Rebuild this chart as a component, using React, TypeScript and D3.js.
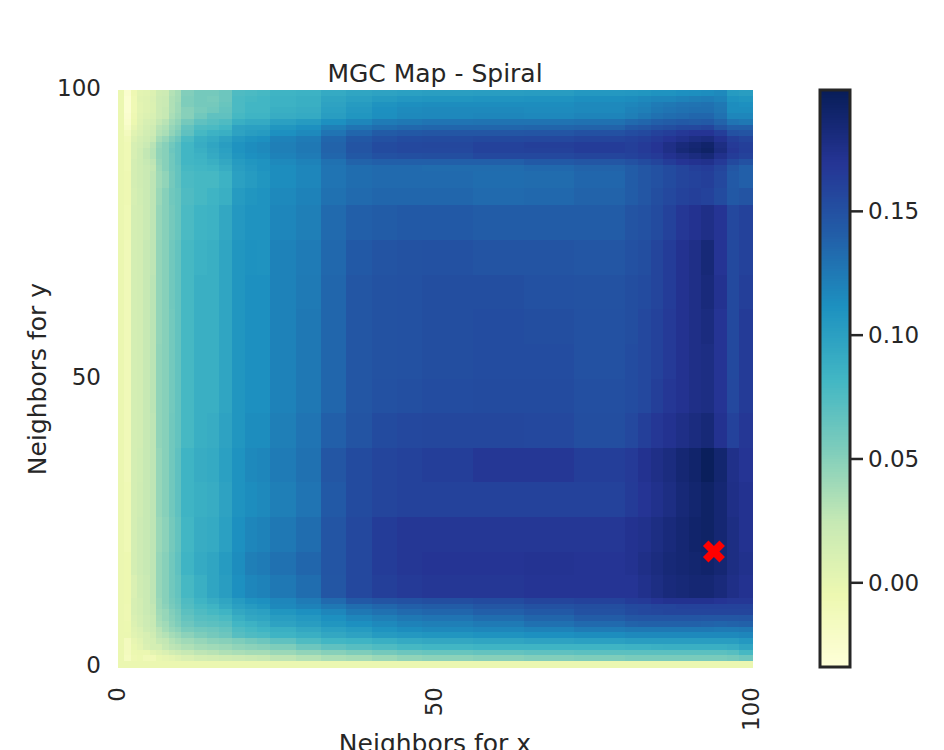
import React from "react";
import * as d3 from "d3";

// Non-uniform block edges, in map cells (columns from the left, rows from the top)
const columnStarts = [0,1,2,3,4,5,6,7,8,9,10,12,14,16,18,20,22,24,28,32,36,40,44,48,56,64,72,80,82,84,86,88,90,92,94,96,98,100];
const rowStarts = [0,1,2,3,4,5,6,7,8,9,10,11,12,13,14,17,20,26,32,38,44,50,56,62,68,74,80,84,88,89,90,91,92,93,94,95,96,97,98,99,100];

// MGC statistic in thousandths, one line per block row (top to bottom)
const mgcMilli = [
[-3,-26,-6,3,4,8,18,20,32,37,52,58,58,62,76,78,80,84,86,92,96,98,100,101,102,103,106,107,108,110,110,112,113,114,116,104,102],
[-3,-28,-8,4,6,10,20,22,34,38,54,58,56,62,78,80,82,86,88,96,100,104,107,108,109,110,113,114,116,118,118,120,122,123,120,110,108],
[-3,-28,-8,3,6,9,20,22,34,40,54,58,58,64,78,82,82,86,88,98,104,110,113,114,114,114,116,118,120,124,126,128,129,130,126,114,112],
[-3,-28,-8,3,6,9,20,24,34,40,50,56,60,66,78,82,82,88,90,100,106,112,115,116,116,115,116,120,122,126,128,130,131,131,127,114,114],
[-3,-26,-6,4,8,11,20,24,36,42,50,60,68,68,80,84,84,90,92,102,108,113,116,117,118,117,119,122,126,130,132,134,136,136,130,118,118],
[-3,-24,-4,6,12,14,25,30,40,46,58,68,72,76,88,92,92,100,104,112,118,124,126,128,129,129,130,134,136,140,142,144,143,144,138,128,126],
[-3,-20,0,8,14,18,30,34,44,50,66,76,78,82,98,100,100,108,112,122,128,132,135,136,136,137,138,144,146,150,152,155,156,158,148,140,140],
[-3,-14,4,10,16,20,32,36,46,54,68,80,86,88,98,102,104,112,116,128,136,143,145,146,146,147,150,153,155,160,163,167,170,170,163,150,148],
[-3,-10,8,14,18,24,38,44,54,62,78,88,92,98,106,110,112,120,124,136,145,150,153,154,155,156,158,160,162,166,170,174,178,180,172,162,158],
[-3,-8,12,16,22,30,44,50,60,68,82,90,96,102,110,114,116,122,126,138,148,154,156,157,160,162,164,162,166,170,176,182,186,190,178,166,162],
[-3,-8,12,18,26,32,46,50,62,68,82,88,94,100,110,114,116,122,126,138,148,154,156,156,160,161,164,162,166,170,176,184,188,192,180,168,163],
[-3,-8,12,18,26,32,46,50,60,68,82,86,92,98,108,112,114,120,124,136,145,150,151,152,156,156,158,160,163,166,172,176,180,184,174,164,160],
[-3,-8,14,19,24,28,44,50,60,68,82,84,88,94,104,108,110,116,120,130,138,140,140,140,140,144,146,150,154,158,164,170,172,174,166,155,150],
[-3,-8,14,18,22,26,42,50,60,66,80,82,84,90,102,106,110,114,118,128,132,134,134,133,133,135,138,142,146,150,154,158,162,164,158,146,140],
[-3,-6,14,18,22,28,40,46,58,66,78,80,80,86,100,104,108,114,118,128,132,134,134,134,132,133,136,142,146,150,154,158,160,162,156,144,140],
[-3,-6,13,17,22,28,42,50,60,64,76,80,84,88,104,108,110,116,120,130,134,136,136,136,134,135,138,142,146,152,156,160,162,160,154,145,148],
[-3,-8,14,16,22,28,44,50,58,64,78,84,86,94,106,110,110,118,122,134,140,142,144,144,142,142,142,148,150,154,160,168,172,176,170,156,160],
[-3,-10,14,16,24,28,45,50,60,66,80,86,88,96,108,111,110,120,124,135,144,148,149,150,148,148,146,150,152,158,164,172,176,184,170,155,160],
[-3,-10,14,16,24,29,45,50,60,66,80,88,88,96,108,112,112,120,125,136,146,149,150,152,152,150,149,152,154,158,164,172,176,182,172,155,162],
[-3,-10,14,16,24,29,45,50,59,66,80,88,88,96,108,112,112,120,126,136,146,149,150,152,153,152,150,152,156,160,166,172,176,180,170,155,165],
[-3,-10,14,16,24,29,46,50,59,66,80,88,88,96,108,112,112,120,126,136,146,149,150,152,153,153,150,153,156,160,166,172,176,178,170,155,165],
[-3,-10,14,16,24,29,46,50,59,66,80,88,88,96,108,112,112,120,126,136,146,150,151,153,154,154,151,153,156,162,168,172,176,178,170,156,165],
[-3,-10,14,16,24,28,46,50,60,66,80,88,90,98,108,114,114,122,128,140,148,154,156,157,157,156,152,156,162,168,172,176,180,184,172,160,168],
[-3,-10,14,17,24,28,44,50,60,68,84,90,92,100,110,116,118,124,130,146,154,158,160,163,168,168,163,166,172,176,180,186,190,197,188,175,170],
[-3,-8,14,18,24,28,44,50,60,68,84,88,90,98,110,114,116,122,128,144,154,158,160,160,160,160,160,165,170,174,178,184,188,192,186,176,172],
[-3,-8,14,20,24,28,42,48,58,66,82,90,92,100,112,118,120,126,132,147,156,164,168,168,168,168,168,172,174,178,182,186,190,192,186,178,172],
[-3,-5,14,20,24,28,44,50,60,68,84,92,96,104,114,122,124,130,136,147,156,164,168,170,170,171,170,172,176,180,184,186,188,190,186,178,174],
[-3,-5,10,18,22,28,44,50,60,66,80,88,96,102,112,118,120,126,132,146,156,162,166,168,168,170,170,170,174,178,182,184,186,186,182,176,172],
[-3,-5,12,16,22,28,42,50,58,64,76,84,90,96,104,110,112,118,124,134,144,148,150,152,154,158,160,164,166,170,172,172,172,172,170,168,168],
[-3,-6,12,16,22,26,42,48,56,62,74,80,84,92,100,104,108,116,120,126,132,136,140,142,146,150,152,155,156,158,158,160,160,160,160,160,160],
[-3,-6,12,16,22,26,40,44,52,58,70,76,80,84,94,98,100,108,112,118,126,130,134,136,140,144,150,154,156,157,158,158,158,158,158,158,158],
[-3,-6,10,14,20,24,38,44,50,56,66,72,74,78,88,94,96,102,106,112,118,122,126,128,132,137,142,146,147,147,147,147,147,146,146,146,147],
[-3,-4,8,14,20,24,36,40,48,54,62,68,70,72,82,86,90,98,102,108,112,116,120,122,125,130,134,138,139,139,139,139,139,138,137,138,139],
[-3,-4,6,10,18,22,30,38,44,48,56,60,62,66,76,80,84,88,94,100,104,110,114,116,118,120,124,126,126,126,126,126,126,126,125,125,126],
[-3,-3,4,8,12,18,28,32,38,42,48,54,58,62,72,76,78,84,88,94,98,104,106,108,110,112,114,116,116,116,116,116,116,116,116,116,118],
[-3,-14,0,4,12,14,24,26,32,36,40,44,48,50,54,58,62,68,76,82,84,88,92,94,96,98,100,102,102,102,102,102,102,102,102,102,106],
[-3,-14,-2,2,10,14,14,24,28,30,34,38,40,42,46,48,50,54,62,68,72,76,80,82,84,84,84,86,86,87,88,88,88,88,88,90,96],
[-3,-14,-4,-3,-3,2,6,10,16,20,24,28,30,34,36,38,38,42,46,50,54,58,62,64,66,68,70,70,70,70,70,70,70,70,70,72,80],
[-3,-16,-6,-4,-10,-10,-2,0,2,6,10,14,16,18,20,22,24,28,32,36,38,42,46,48,50,52,54,56,56,56,56,56,56,56,56,58,62],
[-3,-3,-3,-3,-3,-3,-3,-3,-3,-3,-3,-3,-3,-3,-3,-3,-3,-3,-3,-3,-3,-3,-3,-3,-3,-3,-3,-3,-3,-3,-3,-3,-3,-3,-3,-3,-3],
];

const colorMin = -34;
const colorMax = 199;
const ylGnBu = ["#ffffd9","#edf8b1","#c7e9b4","#7fcdbb","#41b6c4","#1d91c0","#225ea8","#253494","#081d58"];
const barTicks = [0, 0.05, 0.1, 0.15];
const axisTicks = [0, 50, 100];
const bestScale = { x: 94, y: 20 };
const markerShape: [number, number][] = [[-1,-2],[0,-1],[1,-2],[2,-1],[1,0],[2,1],[1,2],[0,1],[-1,2],[-2,1],[-1,0],[-2,-1]];

const W = 944, H = 750;
const ink = "#262626";
const font = "'DejaVu Sans', sans-serif";

export default function App() {
  const x = d3.scaleLinear().domain([0, 100]).range([118, 752]);
  const y = d3.scaleLinear().domain([100, 0]).range([90, 667]);
  const color = d3.scaleLinear<string>()
    .domain(ylGnBu.map((_, i) => colorMin + (i / 8) * (colorMax - colorMin)))
    .range(ylGnBu)
    .interpolate(d3.interpolateRgb.gamma(1));
  const barY = d3.scaleLinear().domain([colorMin / 1000, colorMax / 1000]).range([667, 90]);
  const barSteps = d3.range(0, 233, 1).map((i) => colorMin + i);
  const markerLine = d3.line<[number, number]>().x((d) => x(bestScale.x) + d[0] * 5.5).y((d) => y(bestScale.y) + d[1] * 5.5).curve(d3.curveLinearClosed);

  return (
    <svg width={W} height={H} viewBox={`0 0 ${W} ${H}`} style={{ position: "absolute", left: 0, top: 0, background: "#fff" }} fontFamily={font} fill={ink}>
      <g shapeRendering="crispEdges">
        {mgcMilli.map((row, r) =>
          row.map((v, c) => (
            <rect key={`${r}-${c}`} x={x(columnStarts[c])} y={y(100 - rowStarts[r])}
              width={x(columnStarts[c + 1]) - x(columnStarts[c]) + 0.5}
              height={y(100 - rowStarts[r + 1]) - y(100 - rowStarts[r]) + 0.5}
              fill={color(v)} />
          ))
        )}
      </g>
      <path d={markerLine(markerShape) ?? ""} fill="#ff0000" />
      <text x={435} y={82} textAnchor="middle" fontSize={25}>MGC Map - Spiral</text>
      {axisTicks.map((t) => (
        <text key={`yt${t}`} x={101} y={y(t) + 6} textAnchor="end" fontSize={23}>{t}</text>
      ))}
      {axisTicks.map((t) => (
        <text key={`xt${t}`} transform={`translate(${x(t) + 7},687) rotate(-90)`} textAnchor="end" fontSize={23}>{t}</text>
      ))}
      <text x={435} y={752} textAnchor="middle" fontSize={25}>Neighbors for x</text>
      <text transform="translate(46,379) rotate(-90)" textAnchor="middle" fontSize={25}>Neighbors for y</text>
      <g shapeRendering="crispEdges">
        {barSteps.map((v) => (
          <rect key={v} x={820} y={barY((v + 1) / 1000)} width={30} height={barY(v / 1000) - barY((v + 1) / 1000) + 0.5} fill={color(v + 0.5)} />
        ))}
      </g>
      <rect x={820} y={90} width={30} height={577} fill="none" stroke={ink} strokeWidth={3} />
      {barTicks.map((t) => (
        <g key={t}>
          <line x1={850} x2={863} y1={barY(t)} y2={barY(t)} stroke={ink} strokeWidth={2.5} />
          <text x={868} y={barY(t) + 8} fontSize={23}>{t.toFixed(2)}</text>
        </g>
      ))}
    </svg>
  );
}
